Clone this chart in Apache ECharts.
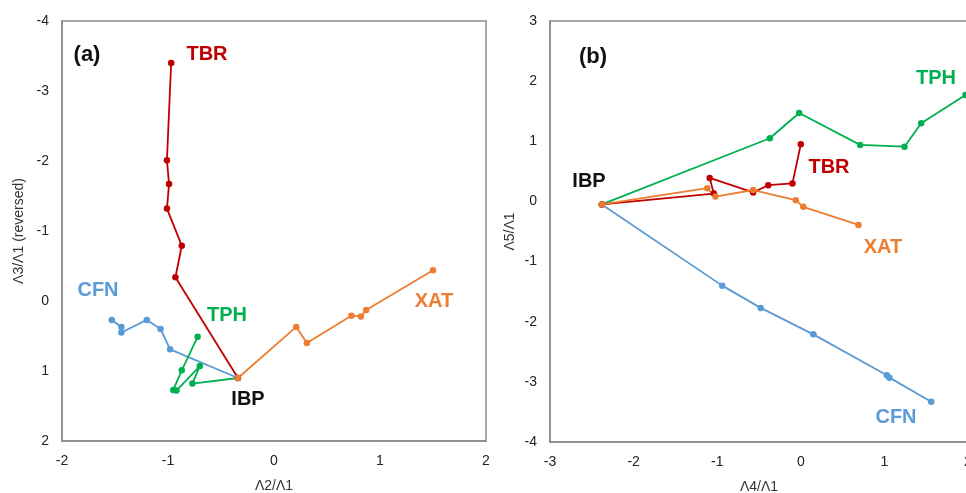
<!DOCTYPE html>
<html>
<head>
<meta charset="utf-8">
<script src="https://cdn.jsdelivr.net/npm/echarts@6/dist/echarts.min.js"></script>
<style>html,body{margin:0;padding:0;background:#fff;}#c{width:966px;height:493px;}</style>
</head>
<body>
<div id="c"></div>
<script>
// Panel (a): x = Λ2/Λ1, y = Λ3/Λ1 ; Panel (b): x = Λ4/Λ1, y = Λ5/Λ1
// first point of every path is IBP
const cfnL2 = [-0.34, -0.98, -1.07, -1.20, -1.44, -1.44, -1.53];
const cfnL3 = [1.10, 0.69, 0.40, 0.27, 0.45, 0.37, 0.27];
const cfnL4 = [-2.38, -0.94, -0.48, 0.15, 1.03, 1.06, 1.56];
const cfnL5 = [-0.05, -1.40, -1.77, -2.21, -2.89, -2.93, -3.33];

const tphL2 = [-0.34, -0.77, -0.70, -0.92, -0.95, -0.87, -0.72];
const tphL3 = [1.10, 1.18, 0.93, 1.28, 1.27, 0.99, 0.51];
const tphL4 = [-2.38, -0.37, -0.02, 0.71, 1.24, 1.44, 1.97];
const tphL5 = [-0.05, 1.05, 1.47, 0.94, 0.91, 1.30, 1.77];

const tbrL2 = [-0.34, -0.93, -0.87, -1.01, -0.99, -1.01, -0.97];
const tbrL3 = [1.10, -0.34, -0.79, -1.32, -1.67, -2.01, -3.40];
const tbrL4 = [-2.38, -1.04, -1.09, -0.57, -0.39, -0.10, 0.00];
const tbrL5 = [-0.05, 0.13, 0.39, 0.15, 0.27, 0.30, 0.95];

const xatL2 = [-0.34, 0.21, 0.31, 0.73, 0.82, 0.87, 1.50];
const xatL3 = [1.10, 0.37, 0.60, 0.21, 0.22, 0.13, -0.44];
const xatL4 = [-2.38, -1.12, -1.02, -0.57, -0.06, 0.03, 0.69];
const xatL5 = [-0.05, 0.22, 0.08, 0.19, 0.02, -0.09, -0.39];

const xTicksA = [-2, -1, 0, 1, 2];
const yTicksA = [-4, -3, -2, -1, 0, 1, 2];
const xTicksB = [-3, -2, -1, 0, 1, 2];
const yTicksB = [-4, -3, -2, -1, 0, 1, 2, 3];

const colors = {CFN: '#5B9BD5', TPH: '#00B050', TBR: '#C00000', XAT: '#ED7D31'};
const FONT = '"Liberation Sans", Arial, sans-serif';

function zip(a, b) { return a.map((v, i) => [v, b[i]]); }
function line(name, xs, ys, gi) {
  return {
    type: 'line', name: name, xAxisIndex: gi, yAxisIndex: gi,
    data: zip(xs, ys), symbol: 'circle', symbolSize: 6.5,
    lineStyle: {color: colors[name], width: 1.8},
    itemStyle: {color: colors[name]},
    animation: false, clip: false
  };
}
function valAxis(min, max, name, gap, extra) {
  return Object.assign({
    type: 'value', min: min, max: max, interval: 1,
    name: name, nameLocation: 'middle', nameGap: gap,
    nameTextStyle: {fontFamily: FONT, fontSize: 14, color: '#333'},
    axisLine: {show: true, onZero: false, lineStyle: {color: '#8a8a8a', width: 1.5}},
    axisTick: {show: false}, splitLine: {show: false},
    axisLabel: {fontFamily: FONT, fontSize: 14, color: '#222', margin: 13}
  }, extra || {});
}
function txt(x, y, s, color, size) {
  return {type: 'text', x: x, y: y, style: {text: s, fill: color, font: 'bold ' + (size || 20) + 'px ' + FONT, textAlign: 'center', textVerticalAlign: 'middle'}};
}

const chart = echarts.init(document.getElementById('c'), null, {renderer: 'canvas'});
chart.setOption({
  backgroundColor: '#fff',
  grid: [
    {left: 62, top: 21, width: 424, height: 420, outerBoundsMode: 'none', containLabel: false, show: true, borderColor: '#8a8a8a', borderWidth: 1.5, backgroundColor: 'transparent'},
    {left: 550, top: 21, width: 418, height: 421, outerBoundsMode: 'none', containLabel: false, show: true, borderColor: '#8a8a8a', borderWidth: 1.5, backgroundColor: 'transparent'}
  ],
  xAxis: [
    valAxis(xTicksA[0], xTicksA[xTicksA.length - 1], 'Λ2/Λ1', 38, {gridIndex: 0}),
    valAxis(xTicksB[0], xTicksB[xTicksB.length - 1], 'Λ4/Λ1', 38, {gridIndex: 1})
  ],
  yAxis: [
    valAxis(yTicksA[0], yTicksA[yTicksA.length - 1], 'Λ3/Λ1 (reversed)', 36, {gridIndex: 0, inverse: true}),
    valAxis(yTicksB[0], yTicksB[yTicksB.length - 1], 'Λ5/Λ1', 33, {gridIndex: 1})
  ],
  series: [
    line('CFN', cfnL2, cfnL3, 0), line('TPH', tphL2, tphL3, 0), line('TBR', tbrL2, tbrL3, 0), line('XAT', xatL2, xatL3, 0),
    line('CFN', cfnL4, cfnL5, 1), line('TPH', tphL4, tphL5, 1), line('TBR', tbrL4, tbrL5, 1), line('XAT', xatL4, xatL5, 1)
  ],
  graphic: [
    txt(87, 55, '(a)', '#111', 22),
    txt(207, 54, 'TBR', colors.TBR),
    txt(98, 290, 'CFN', colors.CFN),
    txt(227, 315, 'TPH', colors.TPH),
    txt(434, 301, 'XAT', colors.XAT),
    txt(248, 399, 'IBP', '#111'),
    txt(593, 57, '(b)', '#111', 22),
    txt(936, 78, 'TPH', colors.TPH),
    txt(829, 167, 'TBR', colors.TBR),
    txt(589, 181, 'IBP', '#111'),
    txt(883, 247, 'XAT', colors.XAT),
    txt(896, 417, 'CFN', colors.CFN)
  ]
});
</script>
</body>
</html>
